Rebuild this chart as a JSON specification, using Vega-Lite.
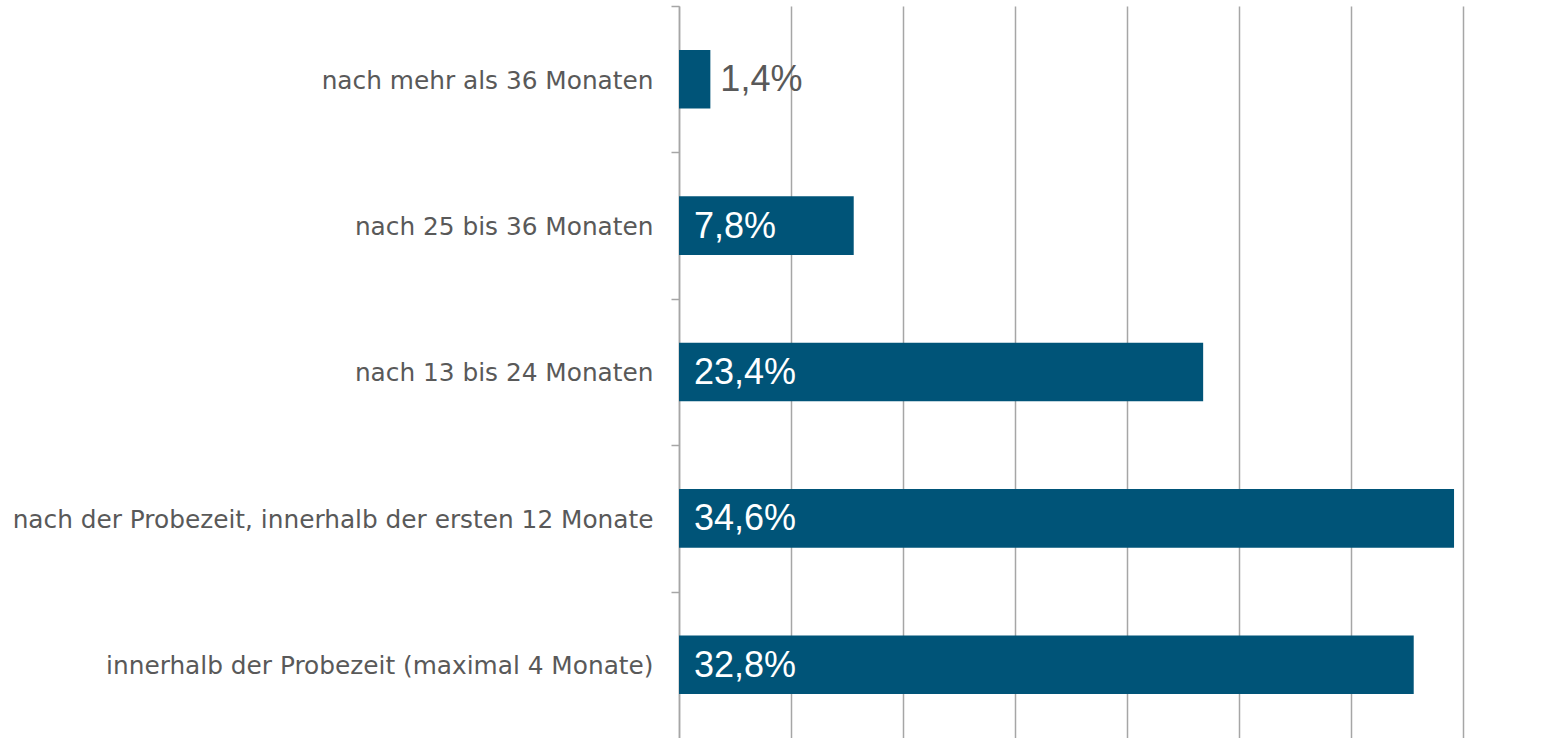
{
  "$schema": "https://vega.github.io/schema/vega-lite/v6.json",
  "autosize": {"type": "none"},
  "padding": {"left": 679, "top": 6, "right": 101, "bottom": 0},
  "width": 784,
  "height": 732,
  "background": "white",
  "config": {"view": {"stroke": null}, "font": "Liberation Sans"},
  "data": {
    "values": [
      {"kategorie": "nach mehr als 36 Monaten", "wert": 1.4, "label": "1,4%"},
      {"kategorie": "nach 25 bis 36 Monaten", "wert": 7.8, "label": "7,8%"},
      {"kategorie": "nach 13 bis 24 Monaten", "wert": 23.4, "label": "23,4%"},
      {"kategorie": "nach der Probezeit, innerhalb der ersten 12 Monate", "wert": 34.6, "label": "34,6%"},
      {"kategorie": "innerhalb der Probezeit (maximal 4 Monate)", "wert": 32.8, "label": "32,8%"}
    ]
  },
  "encoding": {
    "y": {
      "field": "kategorie",
      "type": "nominal",
      "sort": null,
      "scale": {"paddingInner": 0.6, "paddingOuter": 0.3},
      "axis": {
        "title": null,
        "tickOffset": -73.2,
        "labelOffset": 75,
        "labelFont": "DejaVu Sans",
        "labelFontSize": 24.8,
        "labelColor": "#595959",
        "labelPadding": 18,
        "labelLimit": 700,
        "tickSize": 8,
        "tickColor": "#a6a6a6",
        "tickWidth": 1.5,
        "domainColor": "#a6a6a6",
        "domainWidth": 1.5
      }
    }
  },
  "layer": [
    {
      "mark": {"type": "bar", "color": "#005478"},
      "encoding": {
        "x": {
          "field": "wert",
          "type": "quantitative",
          "scale": {"domain": [0, 35], "nice": false},
          "axis": {
            "title": null,
            "labels": false,
            "ticks": false,
            "domain": false,
            "grid": true,
            "gridColor": "#a6a6a6",
            "gridWidth": 1.5,
            "values": [0, 5, 10, 15, 20, 25, 30, 35]
          }
        }
      }
    },
    {
      "transform": [{"filter": "datum.wert >= 5"}],
      "mark": {"type": "text", "align": "left", "dx": 15, "dy": 1, "fontSize": 36, "color": "white"},
      "encoding": {
        "x": {"datum": 0, "type": "quantitative"},
        "text": {"field": "label"}
      }
    },
    {
      "transform": [{"filter": "datum.wert < 5"}],
      "mark": {"type": "text", "align": "left", "dx": 10, "dy": 1, "fontSize": 36, "color": "#595959"},
      "encoding": {
        "x": {"field": "wert", "type": "quantitative"},
        "text": {"field": "label"}
      }
    }
  ]
}
